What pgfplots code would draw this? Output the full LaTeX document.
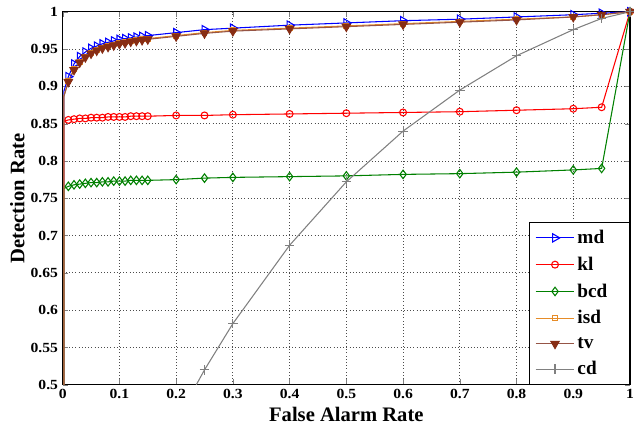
\documentclass[border=0pt]{standalone}
\usepackage{pgfplots}
\pgfplotsset{compat=1.18}
\usetikzlibrary{calc}
\usepackage{fontspec}
\setmainfont{Liberation Serif}
\newfontfamily\tickfont[FakeStretch=1.12]{Liberation Serif}
\definecolor{mdc}{RGB}{0,0,255}
\definecolor{klc}{RGB}{255,0,0}
\definecolor{bcdc}{RGB}{0,128,0}
\definecolor{isdc}{RGB}{230,140,40}
\definecolor{tvc}{RGB}{150,85,70}
\definecolor{tvf}{RGB}{135,45,20}
\definecolor{cdc}{RGB}{128,128,128}
\newcommand{\legtxt}[1]{\makebox[33bp][l]{#1}}
\begin{document}
\begin{tikzpicture}
\begin{axis}[
  scale only axis, width=425.5bp, height=279.8bp,
  xmin=0, xmax=1, ymin=0.5, ymax=1,
  xtick={0,0.1,...,1.01}, ytick={0.5,0.55,...,1.01},
  tick align=inside, tick pos=both,
  major tick length=4pt,
  grid=major, grid style={black!70, dotted, line width=0.6pt},
  axis line style={line width=0.8pt},
  /pgf/number format/assume math mode=true,
  /pgf/number format/fixed,
  tick label style={font=\tickfont\bfseries\fontsize{10.5}{12}\selectfont},
  label style={font=\bfseries\fontsize{15.5}{17}\selectfont},
  xlabel={False Alarm Rate}, ylabel={Detection Rate},
  xlabel style={at={(axis description cs:0.5,0)}, anchor=center, yshift=-22.5bp},
  ylabel style={at={(axis description cs:0,0.5)}, anchor=center, yshift=34bp},
  legend style={at={(1,0)}, anchor=south east, draw=black, line width=0.8pt,
    font=\bfseries\fontsize{14.5}{16}\selectfont, row sep=4.6pt,
    inner xsep=4bp, inner ysep=3.5bp},
  legend cell align=left,
  legend image code/.code={\draw[mark indices={2}] plot coordinates {(0cm,0cm) (0.51cm,0cm) (1.02cm,0cm)};},
  every axis plot/.append style={line width=0.8pt},
]
\addplot[color=mdc, mark=triangle, mark size=3.6pt, mark options={rotate=-90, solid}, mark indices={2,...,28}] coordinates {
(0.002,0.4) (0.002,0.893) (0.01,0.913) (0.02,0.930) (0.03,0.940) (0.04,0.946) (0.05,0.951) (0.06,0.954) (0.07,0.957) (0.08,0.959) (0.09,0.961) (0.10,0.963) (0.11,0.964) (0.12,0.965) (0.13,0.966) (0.14,0.967) (0.15,0.968) (0.2,0.972) (0.25,0.976) (0.3,0.978) (0.4,0.982) (0.5,0.985) (0.6,0.988) (0.7,0.990) (0.8,0.993) (0.9,0.996) (0.95,0.998) (1,1)};
\addlegendentry{\legtxt{md}}
\addplot[color=klc, mark=o, mark size=2.6pt, mark indices={2,...,28}] coordinates {
(0.002,0.4) (0.002,0.853) (0.01,0.855) (0.02,0.856) (0.03,0.857) (0.04,0.857) (0.05,0.858) (0.06,0.858) (0.07,0.858) (0.08,0.859) (0.09,0.859) (0.10,0.859) (0.11,0.859) (0.12,0.860) (0.13,0.860) (0.14,0.860) (0.15,0.860) (0.2,0.861) (0.25,0.861) (0.3,0.862) (0.4,0.863) (0.5,0.864) (0.6,0.865) (0.7,0.866) (0.8,0.868) (0.9,0.870) (0.95,0.872) (1,1)};
\addlegendentry{\legtxt{kl}}
\addplot[color=bcdc, mark=diamond, mark size=3.2pt, mark indices={2,...,28}] coordinates {
(0.002,0.4) (0.002,0.763) (0.01,0.766) (0.02,0.768) (0.03,0.769) (0.04,0.770) (0.05,0.771) (0.06,0.771) (0.07,0.772) (0.08,0.772) (0.09,0.773) (0.10,0.773) (0.11,0.773) (0.12,0.774) (0.13,0.774) (0.14,0.774) (0.15,0.774) (0.2,0.775) (0.25,0.777) (0.3,0.778) (0.4,0.779) (0.5,0.780) (0.6,0.782) (0.7,0.783) (0.8,0.785) (0.9,0.788) (0.95,0.790) (1,1)};
\addlegendentry{\legtxt{bcd}}
\addplot[color=isdc, mark=square, mark size=1.8pt, mark indices={2,...,28}] coordinates {
(0.002,0.4) (0.002,0.887) (0.01,0.907) (0.02,0.923) (0.03,0.933) (0.04,0.940) (0.05,0.945) (0.06,0.949) (0.07,0.952) (0.08,0.954) (0.09,0.956) (0.10,0.958) (0.11,0.959) (0.12,0.961) (0.13,0.962) (0.14,0.963) (0.15,0.964) (0.2,0.968) (0.25,0.972) (0.3,0.975) (0.4,0.978) (0.5,0.981) (0.6,0.984) (0.7,0.987) (0.8,0.990) (0.9,0.993) (0.95,0.996) (1,1)};
\addlegendentry{\legtxt{isd}}
\addplot[color=tvc, mark=triangle*, mark size=3.6pt, mark options={rotate=180, fill=tvf, draw=tvf}, mark indices={2,...,28}] coordinates {
(0.002,0.4) (0.002,0.886) (0.01,0.906) (0.02,0.922) (0.03,0.932) (0.04,0.939) (0.05,0.944) (0.06,0.948) (0.07,0.951) (0.08,0.953) (0.09,0.955) (0.10,0.957) (0.11,0.958) (0.12,0.960) (0.13,0.961) (0.14,0.962) (0.15,0.963) (0.2,0.967) (0.25,0.971) (0.3,0.974) (0.4,0.977) (0.5,0.980) (0.6,0.983) (0.7,0.986) (0.8,0.989) (0.9,0.993) (0.95,0.996) (1,1)};
\addlegendentry{\legtxt{tv}}
\addplot[color=cdc, mark=+, mark size=3.6pt, mark indices={2,...,11}] coordinates {
(0.2355,0.5) (0.25,0.520) (0.3,0.582) (0.4,0.687) (0.5,0.772) (0.6,0.840) (0.7,0.895) (0.8,0.941) (0.9,0.976) (0.95,0.991) (1,1)};
\addlegendentry{\legtxt{cd}}
\end{axis}
\pgfresetboundingbox
\path ($(current axis.south west)+(-47bp,-34.7bp)$) rectangle ($(current axis.north east)+(3bp,8.8bp)$);
\end{tikzpicture}
\end{document}
